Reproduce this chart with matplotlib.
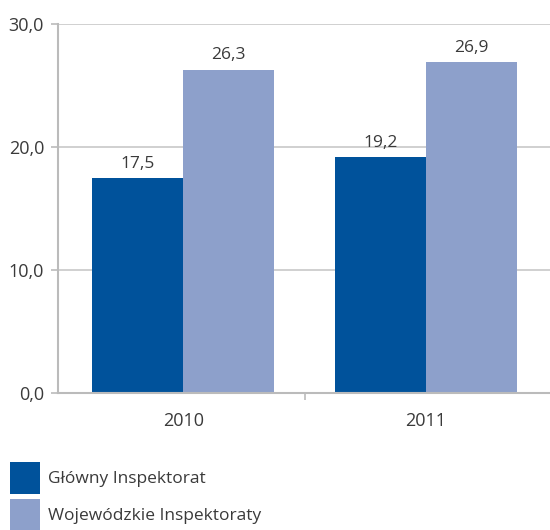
import numpy as np
import matplotlib.pyplot as plt

plt.rcParams['font.family'] = ['Open Sans', 'DejaVu Sans']

years = ["2010", "2011"]
series_names = ["Główny Inspektorat", "Wojewódzkie Inspektoraty"]
glowny = [17.5, 19.2]
wojewodzkie = [26.3, 26.9]
colors = ["#00529B", "#8DA0CB"]

fig = plt.figure(figsize=(5.5, 5.3), dpi=100)
ax = fig.add_axes([58 / 550, 137 / 530, 492 / 550, 369 / 530])

x = np.arange(len(years))
w = 0.375
b1 = ax.bar(x - w / 2, glowny, w, color=colors[0], label=series_names[0])
b2 = ax.bar(x + w / 2, wojewodzkie, w, color=colors[1], label=series_names[1])

for bars, vals in ((b1, glowny), (b2, wojewodzkie)):
    for r, v in zip(bars, vals):
        ax.text(r.get_x() + r.get_width() / 2, v + 0.5, f"{v:.1f}".replace(".", ","),
                ha="center", va="bottom", fontsize=12.5, color="#3a3a3a")

ax.set_xlim(-0.515, 1.51)
ax.set_ylim(0, 30)
ax.set_yticks([0, 10, 20, 30])
ax.set_yticklabels([f"{t:.1f}".replace(".", ",") for t in [0, 10, 20, 30]])
ax.yaxis.grid(True, color="#C8C8C8", linewidth=1.2)
ax.set_axisbelow(True)

ax.set_xticks(x)
ax.set_xticklabels(years)
ax.set_xticks([0.5], minor=True)
ax.tick_params(axis="x", which="major", length=0, pad=14, labelsize=13, labelcolor="#3a3a3a")
ax.tick_params(axis="x", which="minor", length=5, color="#BBBBBB", width=1.2)
ax.tick_params(axis="y", length=5, color="#BBBBBB", width=1.2, pad=5, labelsize=13, labelcolor="#3a3a3a")

for s in ["top", "right"]:
    ax.spines[s].set_visible(False)
for s in ["left", "bottom"]:
    ax.spines[s].set_color("#BBBBBB")
    ax.spines[s].set_linewidth(1.5)

fig.legend(handles=[b1, b2], loc="upper left", bbox_to_anchor=(10 / 550, 1 - 462 / 530),
           frameon=False, fontsize=12.5, handlelength=1.72, handleheight=2.45,
           labelspacing=0.3, handletextpad=0.45, borderpad=0, borderaxespad=0,
           labelcolor="#3a3a3a")

fig.savefig("out.png", dpi=100)
